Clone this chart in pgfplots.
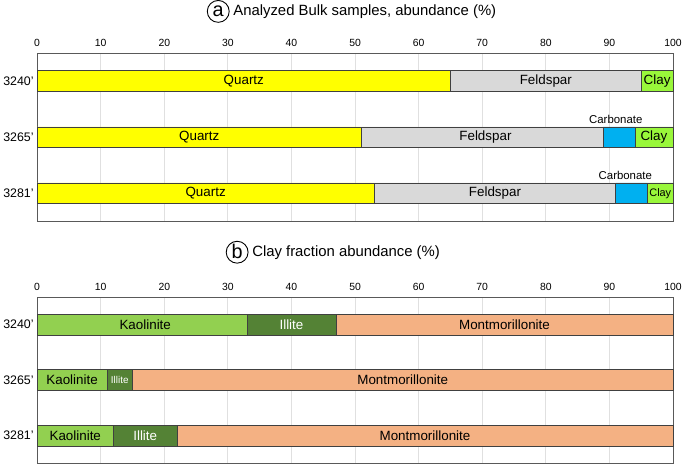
\documentclass[border=0pt]{standalone}
\usepackage{pgfplots}
\pgfplotsset{compat=1.18}
\usepackage{fontspec}
\setmainfont{Liberation Sans}
\definecolor{quartz}{HTML}{FFFF00}
\definecolor{feldspar}{HTML}{D9D9D9}
\definecolor{carbonate}{HTML}{00B0F0}
\definecolor{clay}{HTML}{99F73A}
\definecolor{kaolinite}{HTML}{92D050}
\definecolor{illite}{HTML}{548235}
\definecolor{montm}{HTML}{F4B183}
\tikzset{lbl/.style={font=\fontsize{13.5}{15}\selectfont, inner sep=0pt}}
\pgfplotsset{
  mybar/.style={
    xbar stacked, width=639bp, scale only axis,
    xmin=0, xmax=100, ymin=-0.5, ymax=2.5, y dir=reverse,
    bar width=21bp,
    xtick={0,10,...,100}, xticklabel pos=top,
    ytick={0,1,2}, yticklabels={3240',3265',3281'},
    major tick length=0pt,
    /pgf/number format/assume math mode=true,
    xmajorgrids, grid style={black!12, line width=0.8bp},
    axis line style={black!65, line width=1bp},
    xticklabel style={font=\fontsize{10.5}{12}\selectfont, yshift=3bp},
    yticklabel style={font=\fontsize{12.5}{14}\selectfont},
    every axis plot/.append style={draw=black!75, line width=0.6bp},
    clip=false,
  },
}
\begin{document}
\begin{tikzpicture}
% ---------- (a) bulk ----------
\begin{axis}[mybar, at={(0bp,-169bp)}, anchor=south west, height=169bp]
\addplot[fill=quartz] coordinates {(65,0) (51,1) (53,2)};
\addplot[fill=feldspar] coordinates {(30,0) (38,1) (38,2)};
\addplot[fill=carbonate] coordinates {(0,0) (5,1) (5,2)};
\addplot[fill=clay] coordinates {(5,0) (6,1) (4,2)};
\coordinate (a1) at (axis cs:32.5,0);
\coordinate (a2) at (axis cs:80,0);
\coordinate (a3) at (axis cs:97.5,0);
\coordinate (a4) at (axis cs:25.5,1);
\coordinate (a5) at (axis cs:70.5,1);
\coordinate (a6) at (axis cs:97,1);
\coordinate (a7) at (axis cs:91,0.68);
\coordinate (a8) at (axis cs:26.5,2);
\coordinate (a9) at (axis cs:72,2);
\coordinate (a10) at (axis cs:98,2);
\coordinate (a11) at (axis cs:92.5,1.68);
\end{axis}
\node[lbl] at (a1) {Quartz};
\node[lbl] at (a2) {Feldspar};
\node[lbl] at (a3) {Clay};
\node[lbl] at (a4) {Quartz};
\node[lbl] at (a5) {Feldspar};
\node[lbl] at (a6) {Clay};
\node[lbl,font=\fontsize{11.5}{13}\selectfont] at (a7) {Carbonate};
\node[lbl] at (a8) {Quartz};
\node[lbl] at (a9) {Feldspar};
\node[lbl,font=\fontsize{11}{13}\selectfont] at (a10) {Clay};
\node[lbl,font=\fontsize{11.5}{13}\selectfont] at (a11) {Carbonate};
% ---------- (b) clay fraction ----------
\begin{axis}[mybar, at={(0bp,-412bp)}, anchor=south west, height=167bp]
\addplot[fill=kaolinite] coordinates {(33,0) (11,1) (12,2)};
\addplot[fill=illite] coordinates {(14,0) (4,1) (10,2)};
\addplot[fill=montm] coordinates {(53,0) (85,1) (78,2)};
\coordinate (b1) at (axis cs:17,0);
\coordinate (b2) at (axis cs:40,0);
\coordinate (b3) at (axis cs:73.5,0);
\coordinate (b4) at (axis cs:5.5,1);
\coordinate (b5) at (axis cs:13,1);
\coordinate (b6) at (axis cs:57.5,1);
\coordinate (b7) at (axis cs:6,2);
\coordinate (b8) at (axis cs:17,2);
\coordinate (b9) at (axis cs:61,2);
\end{axis}
\node[lbl] at (b1) {Kaolinite};
\node[lbl,text=white] at (b2) {Illite};
\node[lbl] at (b3) {Montmorillonite};
\node[lbl] at (b4) {Kaolinite};
\node[lbl,text=white,font=\fontsize{10}{11}\selectfont] at (b5) {Illite};
\node[lbl] at (b6) {Montmorillonite};
\node[lbl] at (b7) {Kaolinite};
\node[lbl,text=white] at (b8) {Illite};
\node[lbl] at (b9) {Montmorillonite};
% ---------- titles ----------
\node[circle, draw, line width=0.9bp, minimum size=22bp, inner sep=0pt, font=\fontsize{20}{20}\selectfont] at (182bp,42bp) {\raisebox{1bp}{a}};
\node[anchor=west, inner sep=0pt, font=\fontsize{15}{17}\selectfont] at (197bp,42bp) {Analyzed Bulk samples, abundance (\%)};
\node[circle, draw, line width=0.9bp, minimum size=22bp, inner sep=0pt, font=\fontsize{20}{20}\selectfont] at (201bp,-200bp) {\raisebox{1bp}{b}};
\node[anchor=west, inner sep=0pt, font=\fontsize{15}{17}\selectfont] at (216bp,-200bp) {Clay fraction abundance (\%)};
\end{tikzpicture}
\end{document}
